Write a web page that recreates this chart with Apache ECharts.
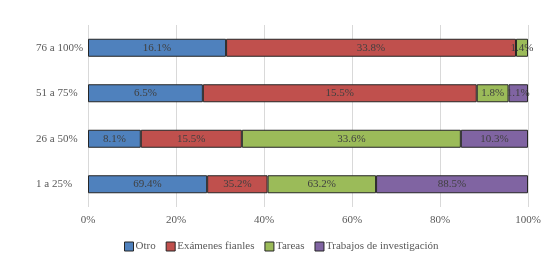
<!DOCTYPE html>
<html>
<head>
    <meta charset="utf-8">
    <style>
        html, body { width: 100%; height: 100%; margin: 0; background: #fff; }
        #chart-panel { width: 552px; height: 264px; }
    </style>
    <script src="https://cdn.jsdelivr.net/npm/echarts@6/dist/echarts.min.js"></script>
</head>
<body>
<div id="chart-panel"></div>
<script type="text/javascript">
  // rows, bottom to top
  var categories = ['1 a 25%', '26 a 50%', '51 a 75%', '76 a 100%'];
  var otro = [69.4, 8.1, 6.5, 16.1];
  var examenes = [35.2, 15.5, 15.5, 33.8];
  var tareas = [63.2, 33.6, 1.8, 1.4];
  var trabajos = [88.5, 10.3, 1.1, 0];
  var xTicks = [0, 20, 40, 60, 80, 100];

  var names = ['Otro', 'Exámenes fianles', 'Tareas', 'Trabajos de investigación'];
  var raw = [otro, examenes, tareas, trabajos];
  var colors = ['#4f81bd', '#c0504d', '#9bbb59', '#8064a2'];

  // 100% stacked: each row scaled by its own total, label shows the raw value
  var totals = categories.map(function (c, i) {
    return raw.reduce(function (s, arr) { return s + arr[i]; }, 0);
  });

  var font = '"Liberation Serif", "DejaVu Serif", serif';

  var series = raw.map(function (arr, k) {
    return {
      name: names[k],
      type: 'bar',
      stack: 'total',
      barWidth: 18,
      itemStyle: { color: colors[k], borderColor: '#262626', borderWidth: 1 },
      label: {
        show: true,
        position: 'inside',
        color: '#404040',
        fontFamily: font,
        fontSize: 11,
        formatter: function (p) {
          return arr[p.dataIndex] > 0 ? arr[p.dataIndex].toFixed(1) + '%' : '';
        }
      },
      data: arr.map(function (v, i) { return v / totals[i] * 100; })
    };
  });

  var myChart = echarts.init(document.getElementById('chart-panel'));
  var option = {
    animation: false,
    color: colors,
    grid: { left: 88, right: 24, top: 25, bottom: 57 },
    legend: {
      bottom: 7,
      left: 119,
      itemWidth: 9,
      itemHeight: 9,
      itemGap: 10,
      icon: 'rect',
      itemStyle: { borderColor: '#262626', borderWidth: 1 },
      textStyle: { color: '#595959', fontFamily: font, fontSize: 11, padding: [0, 0, 0, -3] },
      data: names
    },
    xAxis: {
      type: 'value',
      min: xTicks[0],
      max: xTicks[xTicks.length - 1],
      interval: 20,
      axisLine: { show: false },
      axisTick: { show: false },
      splitLine: { lineStyle: { color: '#d9d9d9' } },
      axisLabel: { color: '#595959', fontFamily: font, fontSize: 11, margin: 8, formatter: '{value}%' }
    },
    yAxis: {
      type: 'category',
      data: categories,
      axisLine: { show: false },
      axisTick: { show: false },
      axisLabel: { color: '#595959', fontFamily: font, fontSize: 11, align: 'left', margin: 52 }
    },
    series: series
  };
  myChart.setOption(option);
</script>
</body>
</html>
